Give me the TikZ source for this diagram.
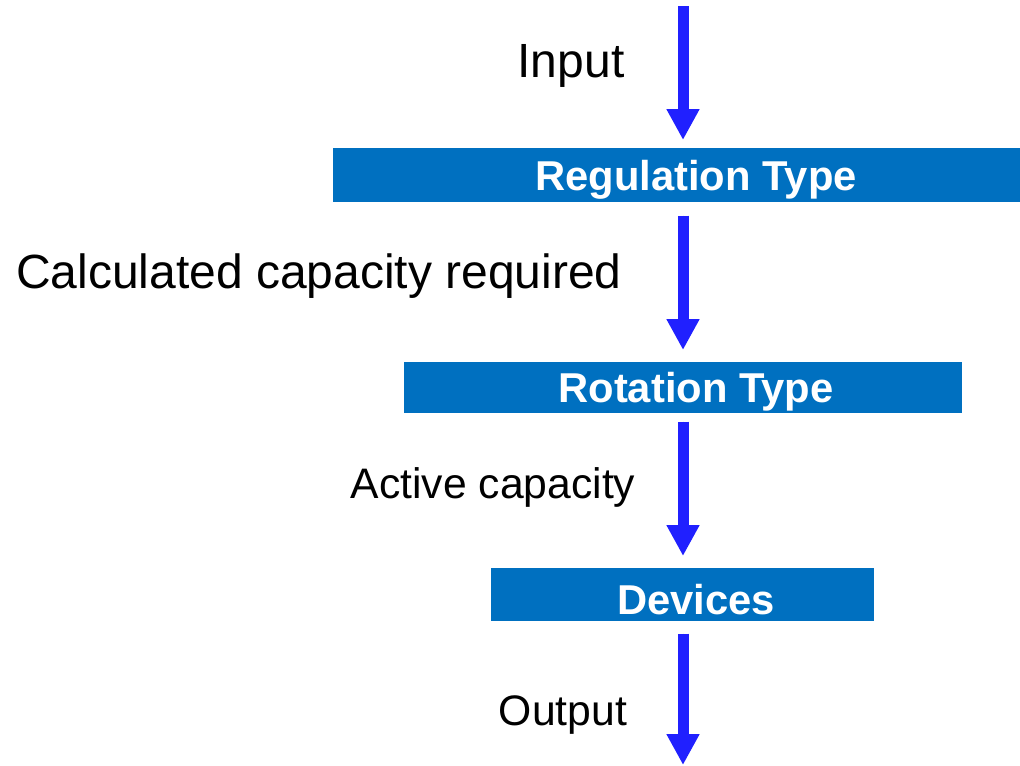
\documentclass[tikz,border=0pt]{standalone}
\usepackage{fontspec}
\setmainfont{Liberation Sans}
\usetikzlibrary{arrows.meta}
\definecolor{boxblue}{RGB}{0,112,192}
\definecolor{arrblue}{RGB}{32,32,255}
\begin{document}
\begin{tikzpicture}[x=0.75pt,y=-0.75pt,
  boxnode/.style={fill=boxblue,draw=none,inner sep=0,anchor=north west},
  boxtext/.style={text=white,font=\bfseries\fontsize{31.3}{34}\selectfont,inner sep=0},
  bigtext/.style={text=black,font=\fontsize{36}{40}\selectfont,inner sep=0},
  midtext/.style={text=black,font=\fontsize{32}{36}\selectfont,inner sep=0},
  flow/.style={draw=arrblue,line width=8.25pt,
    -{Triangle[length=23.25pt 0,width=23.25pt 0]},fill=arrblue}]
\useasboundingbox (0,0) rectangle (1020,765);
% boxes
\node[boxnode,minimum width=687*0.75pt,minimum height=54*0.75pt] (b1) at (333,148) {};
\node[boxnode,minimum width=558*0.75pt,minimum height=51*0.75pt] (b2) at (404,362) {};
\node[boxnode,minimum width=383*0.75pt,minimum height=53*0.75pt] (b3) at (491,568) {};
\node[boxtext] (t1) at (696,180) {Regulation Type};
\node[boxtext] (t2) at (696,392) {Rotation Type};
\node[boxtext] (t3) at (696,600) {Devices};
% labels
\node[bigtext] (l1) at (571,66) {Input};
\node[bigtext] (l2) at (319,276) {Calculated capacity required};
\node[midtext] (l3) at (493,487) {Active capacity};
\node[midtext] (l4) at (563,715) {Output};
% arrows
\coordinate (in) at (683,6);
\coordinate (out) at (683,765);
\draw[flow,shorten >=6pt] (in) -- (in |- b1.north);
\draw[flow,shorten <=9.75pt,shorten >=9pt] (in |- b1.south) -- (in |- b2.north);
\draw[flow,shorten <=6pt,shorten >=9pt] (in |- b2.south) -- (in |- b3.north);
\draw[flow,shorten <=9pt] (in |- b3.south) -- (out);
\end{tikzpicture}
\end{document}
